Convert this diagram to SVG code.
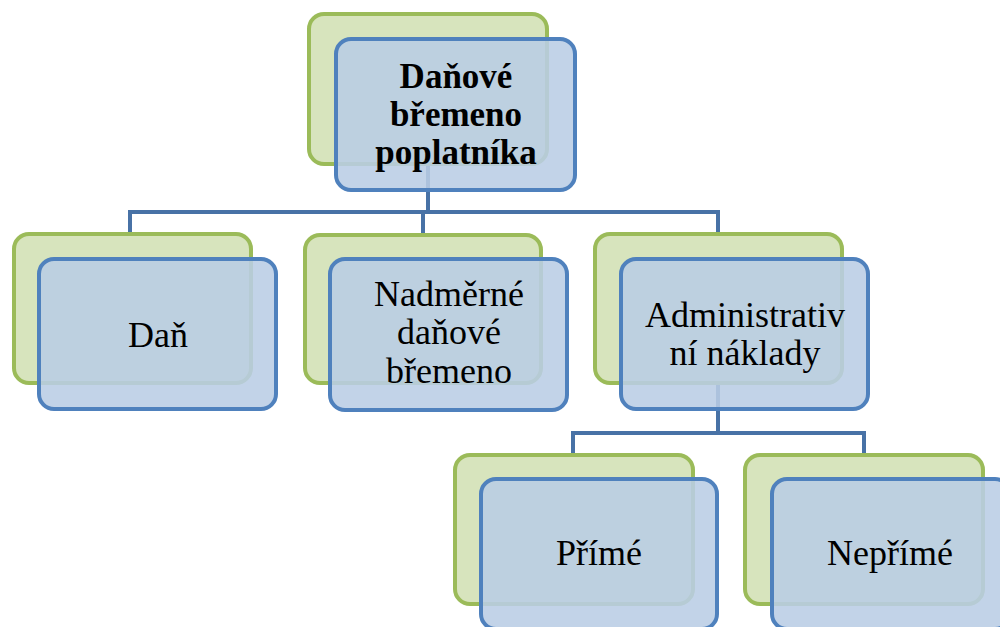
<svg xmlns="http://www.w3.org/2000/svg" width="1000" height="627" viewBox="0 0 1000 627">
<style>
.back{fill:#d7e4bd;stroke:#9bbb59;stroke-width:4}
.front{fill:#b9cde5;fill-opacity:0.88;stroke:#4f81bd;stroke-width:4}
.conn{fill:none;stroke:#4872a6;stroke-width:4}
text{font-family:"Liberation Serif","Times New Roman",serif;font-size:36px;fill:#000;text-anchor:middle}
.b{font-weight:bold;font-size:35px}
</style>
<rect width="1000" height="627" fill="#fff"/>
<g id="connectors">
<path class="conn" d="M428,164 V212 M130,234 V212 H718 V234 M423,212 V234"/>
<path class="conn" d="M718,383 V433 M573,455 V433 H864 V455"/>
</g>
<g id="node-root">
<rect class="back" x="309" y="14" width="238" height="150" rx="15"/>
<rect class="front" x="336" y="39" width="239" height="151" rx="15"/>
<text class="b" x="456" y="88">Daňové</text>
<text class="b" x="456" y="126">břemeno</text>
<text class="b" x="456" y="164">poplatníka</text>
</g>
<g id="node-dan">
<rect class="back" x="14" y="234" width="237" height="149" rx="15"/>
<rect class="front" x="39" y="259" width="237" height="150" rx="15"/>
<text x="158" y="347">Daň</text>
</g>
<g id="node-nadmerne">
<rect class="back" x="305" y="235" width="236" height="148" rx="15"/>
<rect class="front" x="330" y="259" width="237" height="151" rx="15"/>
<text x="449" y="306">Nadměrné</text>
<text x="449" y="344">daňové</text>
<text x="449" y="383">břemeno</text>
</g>
<g id="node-admin">
<rect class="back" x="595" y="234" width="247" height="149" rx="15"/>
<rect class="front" x="621" y="259" width="247" height="150" rx="15"/>
<text x="745" y="327">Administrativ</text>
<text x="745" y="365">ní náklady</text>
</g>
<g id="node-prime">
<rect class="back" x="455" y="455" width="238" height="149" rx="15"/>
<rect class="front" x="481" y="479" width="236" height="150" rx="15"/>
<text x="599" y="565">Přímé</text>
</g>
<g id="node-neprime">
<rect class="back" x="745" y="455" width="238" height="149" rx="15"/>
<rect class="front" x="772" y="479" width="238" height="150" rx="15"/>
<text x="890" y="565">Nepřímé</text>
</g>
</svg>
